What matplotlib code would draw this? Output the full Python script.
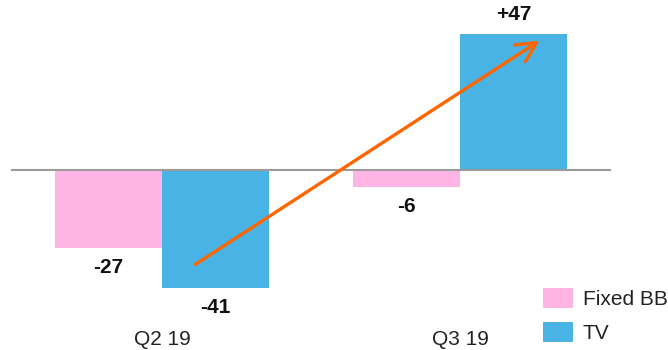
import matplotlib
matplotlib.use('Agg')
import matplotlib.pyplot as plt
from matplotlib.patches import Patch
import numpy as np

# Chart data
quarters = ['Q2 19', 'Q3 19']
fixed_bb = [-27, -6]
tv = [-41, 47]
series_names = ['Fixed BB', 'TV']
colors = ['#FFB4E6', '#4AB3E5']

plt.rcParams['font.family'] = ['Liberation Sans', 'DejaVu Sans']

fig = plt.figure(figsize=(6.68, 3.5), dpi=100)
ax = fig.add_axes([0, 0, 1, 1])

x = np.arange(len(quarters))
width = 0.358
ax.bar(x - width / 2, fixed_bb, width, color=colors[0], linewidth=0)
ax.bar(x + width / 2, tv, width, color=colors[1], linewidth=0)

# zero line
ax.axhline(0, xmin=0.018, xmax=0.913, color='#9a9a9a', linewidth=1.5)

# value labels
off = 6.7
for xs, vals in [(x - width / 2, fixed_bb), (x + width / 2, tv)]:
    for xi, v in zip(xs, vals):
        txt = f'+{v}' if v > 0 else f'{v}'
        y = v + off if v > 0 else v - off
        ax.text(xi, y, txt, ha='center', va='center', fontsize=15,
                fontweight='bold', color='#111111')

# category labels
for xi, q in zip(x, quarters):
    ax.text(xi, -58.8, q, ha='center', va='center', fontsize=15, color='#222222')

# trend arrow
ax.annotate('', xy=(1.275, 45.3), xytext=(0.104, -33.2),
            arrowprops=dict(arrowstyle='->,head_length=1.4,head_width=0.71',
                            color='#FF6600', lw=2.4))

ax.set_xlim(-162 / 298, (668 - 162) / 298)
ax.set_ylim(-(350 - 170) / 2.89, 170 / 2.89)
ax.axis('off')

handles = [Patch(facecolor=c, edgecolor='none') for c in colors]
fig.legend(handles, series_names, loc='upper left',
           bbox_to_anchor=(543 / 668, 1 - 288 / 350), frameon=False,
           fontsize=15, handlelength=1.45, handleheight=1.12,
           handletextpad=0.45, labelspacing=0.62, borderpad=0,
           borderaxespad=0, labelcolor='#222222')

fig.savefig('out.png', dpi=100)
